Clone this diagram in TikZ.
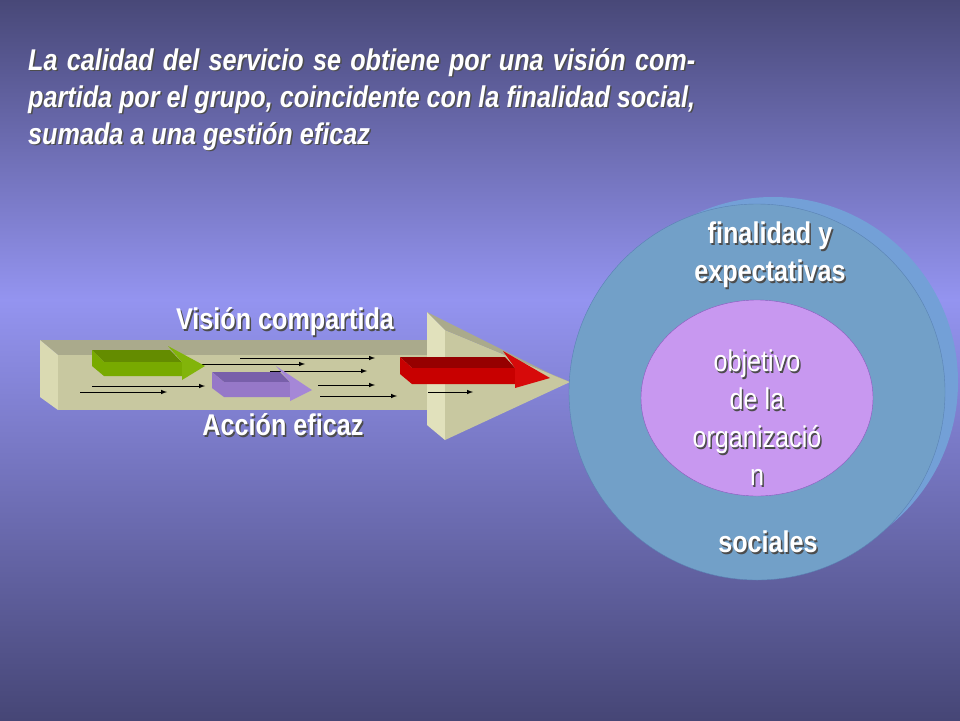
\documentclass[tikz,border=0pt]{standalone}
\usepackage{fontspec}
\setmainfont{Liberation Sans}
\newfontfamily\narrow[FakeStretch=0.84]{Liberation Sans}
\begin{document}
\begin{tikzpicture}[x=1pt,y=-1pt,
  shadowtxt/.style={font=\narrow\bfseries\fontsize{30}{36}\selectfont,text=white,align=center},
  thin/.style={-latex,black,line width=1pt}]
\useasboundingbox (0,0) rectangle (960,720);
\shade[top color={rgb,255:red,72;green,72;blue,120}, bottom color={rgb,255:red,148;green,148;blue,240}] (0,0) rectangle (960,300);
\shade[top color={rgb,255:red,148;green,148;blue,240}, bottom color={rgb,255:red,70;green,70;blue,118}] (0,299) rectangle (960,720);
% title
\foreach \dx/\c in {1.5/black!70,0/white}{
\node[anchor=north west,text width=667pt,align=justify,text=\c,inner sep=0,
  font=\narrow\bfseries\itshape\fontsize{30}{37}\selectfont] (title) at (28+\dx,48+\dx)
 {La calidad del servicio se obtiene por una visión compartida por el grupo, coincidente con la finalidad social, sumada a una gestión eficaz};}
% big arrow
\fill[color={rgb,255:red,170;green,170;blue,140}] (40,340)--(428,340)--(445,355)--(58,355)--cycle;
\fill[color={rgb,255:red,218;green,218;blue,178}] (40,340)--(58,355)--(58,410)--(40,397)--cycle;
\fill[color={rgb,255:red,200;green,200;blue,160}] (58,355) rectangle (445,410);
\fill[color={rgb,255:red,225;green,225;blue,188}] (427,312)--(445,330)--(445,440)--(427,425)--cycle;
\fill[color={rgb,255:red,200;green,200;blue,160}] (445,330)--(570,382)--(445,440)--cycle;
\fill[color={rgb,255:red,170;green,170;blue,140}] (427,312)--(445,330)--(570,382)--(555,376)--cycle;
% thin arrows
\draw[thin] (80,392)--(167,392);
\draw[thin] (92,386)--(205,386);
\draw[thin] (190,364)--(305,364);
\draw[thin] (240,358)--(375,358);
\draw[thin] (270,371)--(367,371);
\draw[thin] (318,385)--(375,385);
\draw[thin] (320,396)--(397,396);
\draw[thin] (428,392)--(473,392);
% block arrows
\fill[color={rgb,255:red,100;green,140;blue,0}] (92,350)--(170,350)--(182,362)--(104,362)--cycle;
\fill[color={rgb,255:red,120;green,170;blue,0}] (104,362)--(182,362)--(182,376)--(104,376)--(92,366)--(92,350)--cycle;
\fill[color={rgb,255:red,130;green,180;blue,10}] (168,346)--(205,366)--(182,380)--(182,362)--cycle;
\fill[color={rgb,255:red,120;green,95;blue,170}] (212,372)--(280,372)--(290,382)--(224,382)--cycle;
\fill[color={rgb,255:red,150;green,120;blue,200}] (224,382)--(290,382)--(290,397)--(224,397)--(212,388)--(212,372)--cycle;
\fill[color={rgb,255:red,165;green,135;blue,215}] (276,366)--(312,390)--(290,401)--(290,382)--cycle;
\fill[color={rgb,255:red,150;green,0;blue,0}] (400,357)--(505,357)--(515,368)--(412,368)--cycle;
\fill[color={rgb,255:red,200;green,0;blue,0}] (412,368)--(515,368)--(515,384)--(412,384)--(400,374)--(400,357)--cycle;
\fill[color={rgb,255:red,215;green,10;blue,10}] (503,351)--(550,378)--(515,388)--(515,368)--cycle;
% labels
\foreach \dx/\c in {1.5/black!70,0/white}{
\node[shadowtxt,text=\c] (vision) at (285+\dx,322+\dx) {Visión compartida};
\node[shadowtxt,text=\c] (accion) at (283+\dx,425+\dx) {Acción eficaz};}
% circles
\fill[color={rgb,255:red,115;green,160;blue,215}] (773,382) circle (185);
\fill[color={rgb,255:red,114;green,160;blue,200}, draw={rgb,255:red,90;green,130;blue,180}] (757,392) circle (188);
\fill[color={rgb,255:red,200;green,152;blue,240},draw={rgb,255:red,140;green,90;blue,190}] (757,398) ellipse (116 and 98);
\foreach \dx/\c in {1.5/black!70,0/white}{
\node[shadowtxt,text=\c,font=\narrow\bfseries\fontsize{30}{38}\selectfont] (fin) at (770+\dx,255+\dx) {finalidad y\\expectativas};
\node[shadowtxt,text=\c,font=\narrow\fontsize{30}{38}\selectfont] (obj) at (757+\dx,418+\dx) {objetivo\\de la\\organizació\\n};
\node[shadowtxt,text=\c] (soc) at (768+\dx,542+\dx) {sociales};}
\end{tikzpicture}
\end{document}
